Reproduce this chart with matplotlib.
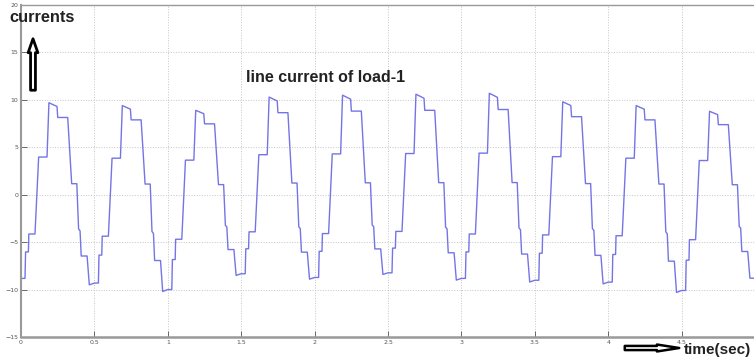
import numpy as np
import matplotlib
matplotlib.use("Agg")
from matplotlib import pyplot as plt

# one cycle of the stepped waveform, read from the first period (offset in s, level normalised)
step_offset = [0.000, 0.027, 0.031, 0.050, 0.053, 0.095, 0.120, 0.177, 0.190,
               0.245, 0.250, 0.318, 0.345, 0.380, 0.392, 0.402, 0.410, 0.450, 0.465]
step_level = [-0.98, -0.98, -0.67, -0.67, -0.46, -0.46, 0.41, 0.41, 1.00,
              0.96, 0.84, 0.84, 0.12, 0.12, -0.38, -0.40, -0.68, -0.68, -1.00]

period = 0.5
# peak of each cycle and the trough that starts each cycle
peaks = [9.7, 9.4, 8.9, 10.3, 10.5, 10.6, 10.7, 9.8, 9.4, 8.8]
troughs = [-9.0, -9.5, -10.2, -8.5, -8.9, -8.4, -9.0, -9.2, -9.4, -10.3, -8.8]

t = []
i = []
for k in range(len(peaks)):
    for off, lev in zip(step_offset, step_level):
        if lev > 0:
            v = lev * peaks[k]
        elif off < 0.15:
            v = -lev * troughs[k]
        else:
            v = -lev * troughs[k + 1]
        t.append(k * period + off)
        i.append(v)
t.append(5.0)
i.append(troughs[-1])

xticks = [0, 0.5, 1, 1.5, 2, 2.5, 3, 3.5, 4, 4.5, 5]
xticklabels = ["0", "0.5", "1", "1.5", "2", "2.5", "3", "3.5", "4", "4.5", "5"]
yticks = [-15, -10, -5, 0, 5, 10, 15, 20]

fig = plt.figure(figsize=(7.54, 3.6), dpi=100)
ax = fig.add_axes([0.0279, 0.0639, 0.9735, 0.922])
ax.plot(t, i, color="#7474e6", lw=1.0)
ax.set_xlim(0, 5)
ax.set_ylim(-15, 20)
ax.set_xticks(xticks)
ax.set_xticklabels(xticklabels)
ax.set_yticks(yticks)
ax.tick_params(labelsize=4.5, colors="#555555", direction="in", length=4, width=0.6, pad=2)
ax.grid(True, linestyle=":", color="#c4c4c4", lw=0.7)
for s in ax.spines.values():
    s.set_color("#999999")
    s.set_linewidth(1.0)
ax.spines["bottom"].set_linewidth(1.8)
ax.spines["left"].set_linewidth(1.5)

fig.text(9, 343, "currents", transform=None, fontsize=11.8, fontweight="bold",
         family="Liberation Sans", va="center", ha="left", color="#222222")
fig.text(246, 283, "line current of load-1", transform=None, fontsize=11.5, fontweight="bold",
         family="Liberation Sans", va="center", ha="left", color="#222222")
fig.text(684, 10, "time(sec)", transform=None, fontsize=11, fontweight="bold",
         family="Liberation Sans", va="center", ha="left", color="#222222")

ax.annotate("", xy=(33, 324), xytext=(33, 267), xycoords="figure pixels", textcoords="figure pixels",
            arrowprops=dict(arrowstyle="simple,head_width=0.7,head_length=1.0,tail_width=0.35",
                            fc="white", ec="black", lw=2))
ax.annotate("", xy=(682, 12), xytext=(622, 12), xycoords="figure pixels", textcoords="figure pixels",
            arrowprops=dict(arrowstyle="simple,head_width=0.5,head_length=1.6,tail_width=0.3",
                            fc="white", ec="black", lw=1.8))

plt.savefig("out.png", dpi=100)
